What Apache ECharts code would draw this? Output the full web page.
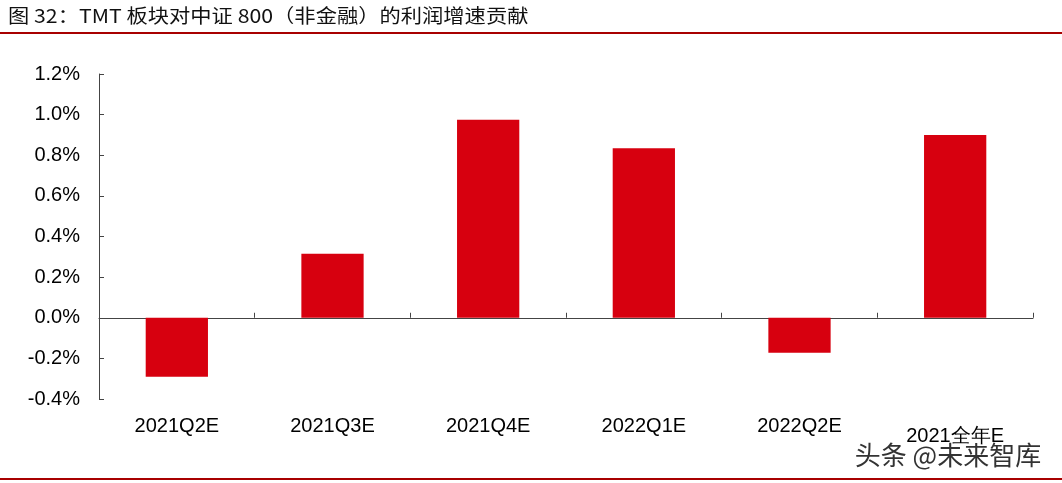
<!DOCTYPE html>
<html>
<head>
<meta charset="utf-8">
<script src="https://cdn.jsdelivr.net/npm/echarts@6/dist/echarts.min.js"></script>
<style>
html,body{margin:0;padding:0;background:#fff;}
#main{width:1062px;height:483px;}
</style>
</head>
<body>
<div id="main"></div>
<script>
var categories=['2021Q2E','2021Q3E','2021Q4E','2022Q1E','2022Q2E','2021全年E'];
var values=[-0.29,0.315,0.975,0.835,-0.172,0.90];   //单位 %
var yTicks={min:-0.4,max:1.2,step:0.2};

var labelData=categories.map(function (c,i) {
    if (i==categories.length-1){
        return {value:c,textStyle:{padding:[10,0,0,0]}};     //最后一个标签略低
    }
    return c;
});

var chart=echarts.init(document.getElementById('main'));
var option={
    animation:false,
    grid:{left:99,right:29,top:74,bottom:84},
    xAxis:[
        {
            type:'category',
            data:categories,
            axisLine:{onZero:true,lineStyle:{color:'#444',width:1}},
            axisTick:{show:true,inside:true,length:5,lineStyle:{color:'#444'}},
            axisLabel:{show:false}
        },
        {
            type:'category',
            data:labelData,
            position:'bottom',
            axisLine:{show:false,onZero:false},
            axisTick:{show:false},
            axisLabel:{margin:17,color:'#000',fontSize:20,fontFamily:'Liberation Sans, Arial'}
        }
    ],
    yAxis:{
        type:'value',
        min:yTicks.min,
        max:yTicks.max,
        interval:yTicks.step,
        splitLine:{show:false},
        axisLine:{show:true,lineStyle:{color:'#444'}},
        axisTick:{show:true,inside:true,length:5,lineStyle:{color:'#444'}},
        axisLabel:{
            color:'#000',fontSize:20,margin:19,fontFamily:'Liberation Sans, Arial',
            formatter:function (v) {return v.toFixed(1)+'%';}
        }
    },
    series:[{
        type:'bar',
        xAxisIndex:0,
        data:values,
        barWidth:'40%',
        itemStyle:{color:'#d7000f'}
    }],
    graphic:[
        {type:'text',left:8,top:6,scaleX:1.12,style:{text:'图 32：TMT 板块对中证 800（非金融）的利润增速贡献',fill:'#111',font:'19px "Noto Sans CJK SC", sans-serif'}},
        {type:'rect',left:0,top:32,shape:{width:1062,height:2},style:{fill:'#a80000'}},
        {type:'rect',left:0,top:478,shape:{width:1062,height:2},style:{fill:'#a80000'}},
        {type:'text',left:854,top:441,style:{text:'头条 @未来智库',fill:'#333',font:'26px "Noto Sans CJK SC", sans-serif',stroke:'#fff',lineWidth:1.5}}
    ]
};
chart.setOption(option);
</script>
</body>
</html>
